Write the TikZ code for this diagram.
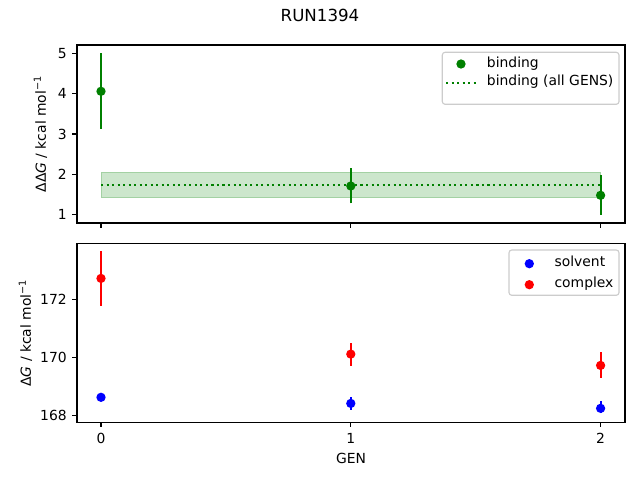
\documentclass[tikz,border=0pt]{standalone}
\usepackage{fontspec}
\setmainfont{DejaVu Sans}
\definecolor{mplgreen}{RGB}{0,128,0}
\definecolor{mplblue}{RGB}{0,0,255}
\definecolor{mplred}{RGB}{255,0,0}
\tikzset{
  axisframe/.style={line width=0.8pt},
  tickmark/.style={line width=0.8pt},
  errbar/.style={line width=1.5pt},
  dot/.style={circle,fill,inner sep=0pt,minimum size=6.7pt},
  ticklabel/.style={font=\fontsize{10}{12}\selectfont,inner sep=0pt},
  legendbox/.style={draw=black!20,fill=white,fill opacity=0.8,rounded corners=2pt,line width=0.8pt},
  legendtext/.style={font=\fontsize{10}{12}\selectfont,inner sep=0pt,anchor=base west},
  dotline/.style={mplgreen,line width=1.5pt,dash pattern=on 1.5pt off 2.475pt}
}
\begin{document}
\begin{tikzpicture}[x=0.72pt,y=0.72pt]
  \useasboundingbox (0,0) rectangle (640,480);
  % title
  \node[font=\fontsize{12}{14}\selectfont,inner sep=0pt] (title) at (320,464.3) {RUN1394};
  % upper panel: band and mean line
  \filldraw[fill=mplgreen,draw=mplgreen,fill opacity=0.2,draw opacity=0.2]
    (101,{225.5+40.15*1.415}) rectangle (600.6,{225.5+40.15*2.047});
  \coordinate (meanL) at (101,{225.5+40.15*1.739});
  \coordinate (meanR) at (600.6,{225.5+40.15*1.739});
  \draw[dotline] (meanL) -- (meanR);
  % upper panel: points with error bars
  \foreach \g/\m/\lo/\hi in {0/4.065/3.13/5.01, 1/1.706/1.275/2.147, 2/1.474/0.99/1.98} {
    \draw[errbar,mplgreen] ({101+249.8*\g},{225.5+40.15*\lo}) -- ({101+249.8*\g},{225.5+40.15*\hi});
    \node[dot,mplgreen] (bind\g) at ({101+249.8*\g},{225.5+40.15*\m}) {};
  }
  % upper panel: frame and ticks
  \draw[axisframe] (77,257) rectangle (625,435);
  \foreach \v in {1,...,5} {
    \draw[tickmark] (77,{225.5+40.15*\v}) -- ++(-3.5pt,0) node[ticklabel,left=3.5pt] (ytop\v) {\v};
  }
  \foreach \g in {0,1,2} {
    \draw[tickmark] ({101+249.8*\g},257) -- ++(0,-3.5pt);
  }
  \node[rotate=90,anchor=base,inner sep=0pt,font=\fontsize{10}{12}\selectfont] (ylabtop) at (46,346)
    {ΔΔ\textit{G} / kcal mol\textsuperscript{−1}};
  % upper legend
  \draw[legendbox] (442.3,375.7) rectangle (619,427.7);
  \node[dot,mplgreen] (legbind) at (461,416) {};
  \node[legendtext] (legbindtxt) at (486.7,412.7) {binding};
  \coordinate (legmeanL) at (446,397.3);
  \coordinate (legmeanR) at (475.7,397.3);
  \draw[dotline] (legmeanL) -- (legmeanR);
  \node[legendtext] (legmeantxt) at (486.7,394) {binding (all GENS)};
  % lower panel: points with error bars
  \foreach \g/\m/\lo/\hi in {0/168.62/168.55/168.69, 1/168.41/168.19/168.62, 2/168.24/168.07/168.49} {
    \draw[errbar,mplblue] ({101+249.8*\g},{122.7+29*(\lo-170)}) -- ({101+249.8*\g},{122.7+29*(\hi-170)});
    \node[dot,mplblue] (solv\g) at ({101+249.8*\g},{122.7+29*(\m-170)}) {};
  }
  \foreach \g/\m/\lo/\hi in {0/172.72/171.78/173.67, 1/170.11/169.71/170.50, 2/169.72/169.30/170.18} {
    \draw[errbar,mplred] ({101+249.8*\g},{122.7+29*(\lo-170)}) -- ({101+249.8*\g},{122.7+29*(\hi-170)});
    \node[dot,mplred] (cplx\g) at ({101+249.8*\g},{122.7+29*(\m-170)}) {};
  }
  % lower panel: frame and ticks
  \draw[axisframe] (77,57.7) rectangle (625,236.3);
  \foreach \v in {168,170,172} {
    \draw[tickmark] (77,{122.7+29*(\v-170)}) -- ++(-3.5pt,0) node[ticklabel,left=3.5pt] (ybot\v) {\v};
  }
  \foreach \g in {0,1,2} {
    \draw[tickmark] ({101+249.8*\g},57.7) -- ++(0,-3.5pt);
    \node[ticklabel] (xbot\g) at ({101+249.8*\g},42) {\g};
  }
  \node[ticklabel] (xlab) at (351,21.7) {GEN};
  \node[rotate=90,anchor=base,inner sep=0pt,font=\fontsize{10}{12}\selectfont] (ylabbot) at (31,147)
    {Δ\textit{G} / kcal mol\textsuperscript{−1}};
  % lower legend
  \draw[legendbox] (509,184.7) rectangle (619,230);
  \node[dot,mplblue] (legsolv) at (529.3,216.3) {};
  \node[legendtext] (legsolvtxt) at (554.3,213) {solvent};
  \node[dot,mplred] (legcplx) at (529.3,195.3) {};
  \node[legendtext] (legcplxtxt) at (554.3,192) {complex};
\end{tikzpicture}
\end{document}
